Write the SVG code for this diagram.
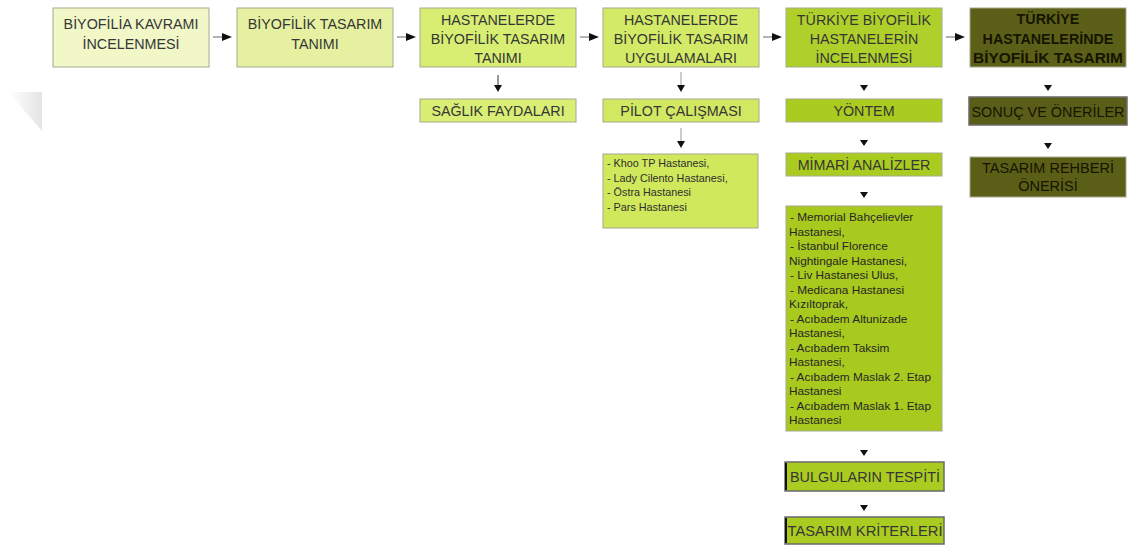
<svg xmlns="http://www.w3.org/2000/svg" width="1129" height="547" viewBox="0 0 1129 547">
<defs>
<style>
.t{font-family:"Liberation Sans",Arial,sans-serif;font-size:14.3px;fill:#363636;text-anchor:middle}
.d{fill:#151500}
.b{font-weight:bold}
.l{font-family:"Liberation Sans",Arial,sans-serif;font-size:10.8px;fill:#2e2e2e}
.m{font-family:"Liberation Sans",Arial,sans-serif;font-size:11.8px;fill:#262626}
.box{stroke:#a5aa8c;stroke-width:1}
.bev{stroke:#6a6a6a;stroke-width:1.5}
.conn line{stroke:#666;stroke-width:1}
.conn polygon{fill:#111}
</style>
<linearGradient id="sh" x1="0" y1="0" x2="1" y2="0">
<stop offset="0" stop-color="#ffffff"/>
<stop offset="1" stop-color="#e4e4e4"/>
</linearGradient>
</defs>
<rect width="1129" height="547" fill="#ffffff"/>
<polygon points="8,92 42,92 42,131" fill="url(#sh)"/>

<g id="n1"><rect class="box" x="53" y="8" width="156" height="59" fill="#f1f7c6"/>
<text class="t" x="131" y="29">BİYOFİLİA KAVRAMI</text><text class="t" x="131" y="49">İNCELENMESİ</text></g>
<g id="n2"><rect class="box" x="237" y="8" width="156" height="59" fill="#e5f1a0"/>
<text class="t" x="315" y="29">BİYOFİLİK TASARIM</text><text class="t" x="315" y="49">TANIMI</text></g>
<g id="n3"><rect class="box" x="420" y="8" width="156" height="59" fill="#d8ee72"/>
<text class="t" x="498" y="25">HASTANELERDE</text><text class="t" x="498" y="44">BİYOFİLİK TASARIM</text><text class="t" x="498" y="63">TANIMI</text></g>
<g id="n4"><rect class="box" x="603" y="8" width="156" height="59" fill="#d3ea66"/>
<text class="t" x="681" y="25">HASTANELERDE</text><text class="t" x="681" y="44">BİYOFİLİK TASARIM</text><text class="t" x="681" y="63">UYGULAMALARI</text></g>
<g id="n5"><rect class="box" x="786" y="8" width="156" height="59" fill="#afd02a"/>
<text class="t" x="864" y="25">TÜRKİYE BİYOFİLİK</text><text class="t" x="864" y="44">HASTANELERİN</text><text class="t" x="864" y="63">İNCELENMESİ</text></g>
<g id="n6"><rect class="box" x="970" y="8" width="156" height="59" fill="#5c5f17"/>
<text class="t d b" x="1048" y="24">TÜRKİYE</text><text class="t d b" x="1048" y="44">HASTANELERİNDE</text><text class="t d b" x="1048" y="63" textLength="150" lengthAdjust="spacingAndGlyphs">BİYOFİLİK TASARIM</text></g>

<g id="n7"><rect class="box" x="420" y="99" width="156" height="23" fill="#d9ee74"/>
<text class="t" x="498" y="116">SAĞLIK FAYDALARI</text></g>
<g id="n8"><rect class="box" x="603" y="99" width="156" height="23" fill="#d1e862"/>
<text class="t" x="681" y="116">PİLOT ÇALIŞMASI</text></g>
<g id="n9"><rect class="box" x="603" y="154" width="155" height="74" fill="#d0e85c"/>
<text class="l" x="607" y="167">- Khoo TP Hastanesi,</text>
<text class="l" x="607" y="181.5">- Lady Cilento Hastanesi,</text>
<text class="l" x="607" y="196">- Östra Hastanesi</text>
<text class="l" x="607" y="210.5">- Pars Hastanesi</text></g>

<g id="n10"><rect class="box" x="786" y="99" width="156" height="23" fill="#aacb20"/>
<text class="t" x="864" y="116">YÖNTEM</text></g>
<g id="n11"><rect class="box" x="786" y="153" width="156" height="23" fill="#aacb20"/>
<text class="t" x="864" y="170">MİMARİ ANALİZLER</text></g>
<g id="n12"><rect class="box" x="786" y="206" width="156" height="225" fill="#a8c91e"/>
<text class="m" x="790" y="221">- Memorial Bahçelievler</text>
<text class="m" x="789" y="235.5">Hastanesi,</text>
<text class="m" x="790" y="250">- İstanbul Florence</text>
<text class="m" x="789" y="264.5">Nightingale Hastanesi,</text>
<text class="m" x="790" y="279">- Liv Hastanesi Ulus,</text>
<text class="m" x="790" y="293.5">- Medicana Hastanesi</text>
<text class="m" x="789" y="308">Kızıltoprak,</text>
<text class="m" x="790" y="322.5">- Acıbadem Altunizade</text>
<text class="m" x="789" y="337">Hastanesi,</text>
<text class="m" x="790" y="351.5">- Acıbadem Taksim</text>
<text class="m" x="789" y="366">Hastanesi,</text>
<text class="m" x="790" y="380.5">- Acıbadem Maslak 2. Etap</text>
<text class="m" x="789" y="395">Hastanesi</text>
<text class="m" x="790" y="409.5">- Acıbadem Maslak 1. Etap</text>
<text class="m" x="789" y="424">Hastanesi</text></g>
<g id="n13"><rect class="bev" x="785" y="462" width="159" height="29" fill="#aacb20"/><line x1="786" y1="463" x2="786" y2="490" stroke="#111" stroke-width="2"/>
<text class="t" x="865" y="482" style="font-size:15px" textLength="150" lengthAdjust="spacingAndGlyphs">BULGULARIN TESPİTİ</text></g>
<g id="n14"><rect class="bev" x="785" y="517" width="159" height="27" fill="#aacb20"/><line x1="786" y1="518" x2="786" y2="543" stroke="#111" stroke-width="2"/>
<text class="t" x="865" y="536" style="font-size:15px" textLength="155" lengthAdjust="spacingAndGlyphs">TASARIM KRİTERLERİ</text></g>

<g id="n15"><rect class="bev" x="969" y="97" width="158" height="28" fill="#5a5d18"/>
<text class="t d" x="1048" y="117" style="font-size:15px" textLength="153" lengthAdjust="spacingAndGlyphs">SONUÇ VE ÖNERİLER</text></g>
<g id="n16"><rect class="box" x="970" y="157" width="156" height="40" fill="#5b5e17"/>
<text class="t d" x="1048" y="173" style="font-size:14.5px">TASARIM REHBERİ</text><text class="t d" x="1048" y="191" style="font-size:14.5px">ÖNERİSİ</text></g>

<g id="connectors" class="conn">
<line x1="213" y1="37" x2="223" y2="37"/><polygon points="222,33 232,37 222,41"/>
<line x1="397" y1="37" x2="407" y2="37"/><polygon points="406,33 416,37 406,41"/>
<line x1="580" y1="37" x2="590" y2="37"/><polygon points="589,33 599,37 589,41"/>
<line x1="763" y1="37" x2="773" y2="37"/><polygon points="772,33 782,37 772,41"/>
<line x1="946" y1="37" x2="956" y2="37"/><polygon points="955,33 965,37 955,41"/>
<line x1="498" y1="75" x2="498" y2="86" style="stroke:#333"/><polygon points="494,85 502,85 498,92"/>
<line x1="681" y1="72" x2="681" y2="86" style="stroke:#999"/><polygon points="677,85 685,85 681,92"/>
<polygon points="860,85 868,85 864,91"/>
<polygon points="1044,85 1052,85 1048,91"/>
<line x1="681" y1="128" x2="681" y2="142" style="stroke:#999"/><polygon points="677,141 685,141 681,148"/>
<polygon points="860,140 868,140 864,146"/>
<polygon points="860,192 868,192 864,198"/>
<polygon points="860,450 868,450 864,456"/>
<polygon points="860,505 868,505 864,511"/>
<polygon points="1044,143 1052,143 1048,149"/>
</g>
</svg>
